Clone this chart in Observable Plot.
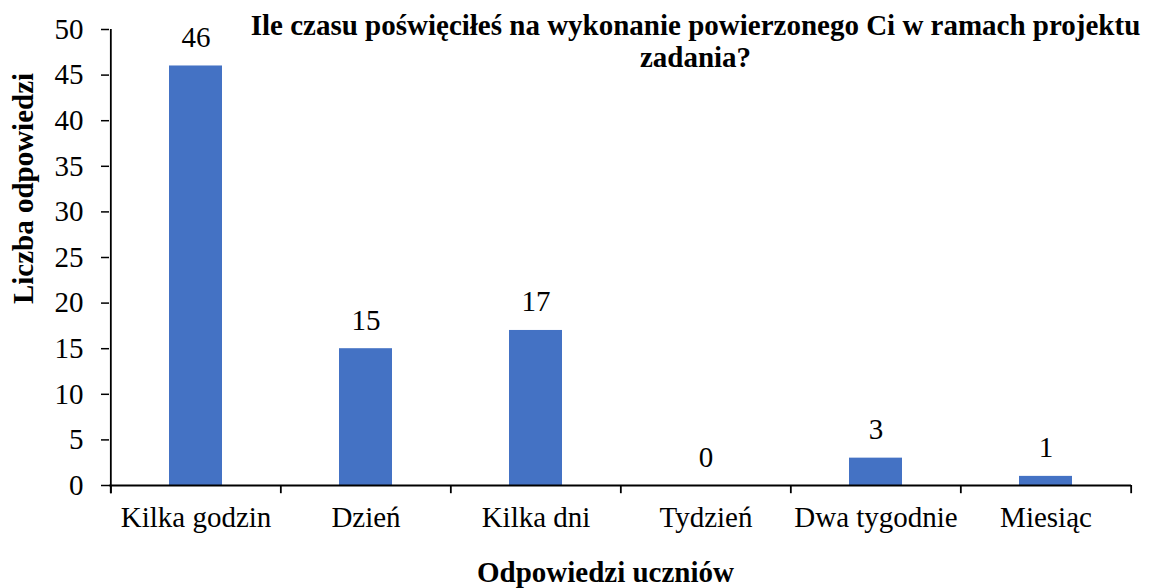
<!DOCTYPE html>
<html>
<head>
<meta charset="utf-8">
<script src="https://cdn.jsdelivr.net/npm/d3@7"></script>
<script src="https://cdn.jsdelivr.net/npm/@observablehq/plot@0.6"></script>
<style>
  html, body { margin: 0; padding: 0; background: #fff; }
</style>
</head>
<body>
<div id="chart"></div>
<script>
const categories = ["Kilka godzin", "Dzień", "Kilka dni", "Tydzień", "Dwa tygodnie", "Miesiąc"];
const values = [46, 15, 17, 0, 3, 1];
const yTicks = [0, 5, 10, 15, 20, 25, 30, 35, 40, 45, 50];
const title = "Ile czasu poświęciłeś na wykonanie powierzonego Ci w ramach projektu\nzadania?";
const xTitle = "Odpowiedzi uczniów";
const yTitle = "Liczba odpowiedzi";

const data = categories.map((c, i) => ({cat: c, value: values[i]}));

const W = 1153, H = 588;
const mL = 109, mR = 22, mT = 29, mB = 103;
const step = (W - mL - mR) / categories.length;
const font = "Liberation Serif";
const fs = 29;

const chart = Plot.plot({
  width: W,
  height: H,
  marginLeft: mL,
  marginRight: mR,
  marginTop: mT,
  marginBottom: mB,
  style: {fontFamily: font, fontSize: fs + "px", color: "#000", background: "#fff"},
  x: {domain: categories, paddingInner: 0.69, paddingOuter: 0.345, axis: null},
  y: {domain: [0, 50], axis: null},
  marks: [
    Plot.barY(data, {x: "cat", y: "value", fill: "#4472C4"}),
    Plot.text(data, {x: "cat", y: "value", text: d => String(d.value), lineAnchor: "bottom", dy: -19, fontSize: fs, fontFamily: font}),
    Plot.axisX({tickSize: 0, tickPadding: 21, label: null, fontSize: fs, fontFamily: font}),
    Plot.axisY({ticks: yTicks, tickSize: 8, tickPadding: 18, label: null, tickFormat: d => String(d), strokeWidth: 1.5, fontSize: fs, fontFamily: font}),
    Plot.ruleY([0], {stroke: "#000", strokeWidth: 1.8}),
    Plot.ruleX(categories, {x: d => d, y1: 0, y2: -0.9, dx: -step / 2, stroke: "#000", strokeWidth: 1.8}),
    Plot.ruleX([categories[categories.length - 1]], {x: d => d, y1: 0, y2: -0.9, dx: step / 2, stroke: "#000", strokeWidth: 1.8}),
    Plot.ruleX([categories[0]], {x: d => d, y1: -0.9, y2: 50, dx: -step / 2, stroke: "#000", strokeWidth: 1.8}),
    Plot.text([title], {frameAnchor: "top", text: d => d, dx: 75, dy: -17, lineAnchor: "top", textAnchor: "middle", fontWeight: "bold", fontSize: fs, lineHeight: 1.1, fontFamily: font}),
    Plot.text([xTitle], {frameAnchor: "bottom", text: d => d, dx: -15, dy: 76, lineAnchor: "top", textAnchor: "middle", fontWeight: "bold", fontSize: fs, fontFamily: font}),
    Plot.text([yTitle], {frameAnchor: "left", text: d => d, dx: -86, dy: -69, rotate: -90, lineAnchor: "middle", textAnchor: "middle", fontWeight: "bold", fontSize: fs, fontFamily: font})
  ]
});
document.getElementById("chart").appendChild(chart);
</script>
</body>
</html>
